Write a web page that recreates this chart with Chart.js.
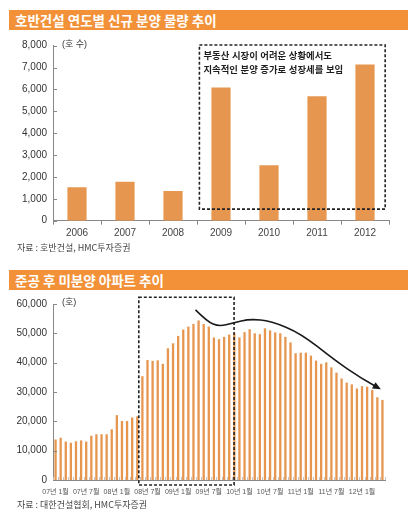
<!DOCTYPE html>
<html>
<head>
<meta charset="utf-8">
<script src="https://cdn.jsdelivr.net/npm/chart.js@4.4.1/dist/chart.umd.min.js"></script>
<style>
  body { margin: 0; background: #fff; width: 413px; height: 517px; position: relative; overflow: hidden;
         font-family: 'Noto Sans CJK KR', sans-serif; }
  .banner { position: absolute; left: 9px; width: 399px; height: 20px; background: #F29138; color: #fff;
            font-weight: bold; font-size: 13.5px; line-height: 20px; padding-left: 6px; box-sizing: border-box; }
  .src { position: absolute; left: 17px; font-size: 9px; color: #444; line-height: 12px; }
  canvas { position: absolute; left: 0; }
</style>
</head>
<body>
<div class="banner" style="top:10px">호반건설 연도별 신규 분양 물량 추이</div>
<canvas id="supplyChart" width="413" height="230" style="top:30px"></canvas>
<div class="src" style="top:242px">자료 : 호반건설, HMC투자증권</div>
<div class="banner" style="top:270px">준공 후 미분양 아파트 추이</div>
<canvas id="unsoldChart" width="413" height="255" style="top:262px"></canvas>
<div class="src" style="top:499px">자료 : 대한건설협회, HMC투자증권</div>

<script>
// 호반건설 연도별 신규 분양 물량 (호)
const years = ['2006', '2007', '2008', '2009', '2010', '2011', '2012']
const supplyUnits = [1530, 1780, 1360, 6090, 2530, 5690, 7140]

// 준공 후 미분양 아파트, 07년 1월 ~ 12년 5월 월별 (호)
const monthTickLabels = ['07년 1월', '07년 7월', '08년 1월', '08년 7월', '09년 1월', '09년 7월',
  '10년 1월', '10년 7월', '11년 1월', '11년 7월', '12년 1월']
const unsoldUnits = [
  13800, 14400, 13100, 12700, 13200, 13500, 13100, 15100, 15600, 15600, 15600, 17300,
  22100, 20100, 20100, 21300, 21700, 35400, 40900, 40600, 40800, 39600, 44900, 46600,
  49100, 51300, 52300, 53200, 54400, 53200, 52300, 48600, 48000, 48800, 49600, 50000,
  48600, 50400, 51400, 50000, 49700, 51700, 51000, 50300, 50000, 48800, 46900, 43200,
  43400, 43400, 42400, 40700, 39600, 40100, 38400, 36600, 34600, 33200, 32600, 31200,
  32000, 31800, 30700, 28200, 27300,
]

const BAR_COLOR = '#E6964F'
const FONT = "'Liberation Sans', 'Noto Sans CJK KR', sans-serif"

// callouts, in data units (category index, value)
const supplyBox = { x0: 2.55, x1: 6.42, y0: 8030, y1: 530 }
const supplyNote = ['부동산 시장이 어려운 상황에서도', '지속적인 분양 증가로 성장세를 보임']
const unsoldBox = { x0: 16.3, x1: 34.95, y0: 62300, y1: -1700 }
const trendCurve = [
  [27.4, 58000], [29.7, 54000], [32.0, 52300], [34.7, 53500], [38.0, 54900],
  [42.2, 54200], [48.0, 50000], [54.6, 40900], [59.8, 34700], [63.7, 30900],
]

const decorations = {
  id: 'decorations',
  afterDraw(chart, args, opts) {
    const ctx = chart.ctx
    const x = chart.scales.x
    const y = chart.scales.y
    const area = chart.chartArea
    ctx.save()

    // y ticks pointing inward
    ctx.strokeStyle = '#888'
    ctx.lineWidth = 1
    y.ticks.forEach((t) => {
      const py = Math.round(y.getPixelForValue(t.value)) + 0.5
      ctx.beginPath()
      ctx.moveTo(area.left, py)
      ctx.lineTo(area.left + 4, py)
      ctx.stroke()
    })

    // x ticks on category boundaries
    ctx.strokeStyle = opts.xTickColor
    const n = chart.data.labels.length
    for (let i = 0; i <= n; i++) {
      const px = Math.round(x.getPixelForValue(i - 0.5)) + 0.5
      ctx.beginPath()
      ctx.moveTo(px, area.bottom)
      ctx.lineTo(px, area.bottom + opts.xTickLen)
      ctx.stroke()
    }

    // unit label
    ctx.fillStyle = '#333'
    ctx.font = '9px ' + FONT
    ctx.textBaseline = 'middle'
    ctx.fillText(opts.unit, area.left + 9, area.top - 1)

    // dashed callout box
    const b = opts.box
    const bx0 = x.getPixelForValue(b.x0)
    const bx1 = x.getPixelForValue(b.x1)
    const by0 = y.getPixelForValue(b.y0)
    const by1 = y.getPixelForValue(b.y1)
    ctx.setLineDash([3, 2])
    ctx.lineWidth = 1.6
    ctx.strokeStyle = '#222'
    ctx.strokeRect(bx0, by0, bx1 - bx0, by1 - by0)
    ctx.setLineDash([])

    if (opts.note) {
      ctx.fillStyle = '#1e1e1e'
      ctx.font = 'bold 9.4px ' + FONT
      opts.note.forEach((line, i) => ctx.fillText(line, bx0 + 4, by0 + 11 + i * 14.5))
    }

    if (opts.curve) {
      const pts = opts.curve.map((p) => [x.getPixelForValue(p[0]), y.getPixelForValue(p[1])])
      const last = pts[pts.length - 1]
      const prev = pts[pts.length - 2]
      const ang = Math.atan2(last[1] - prev[1], last[0] - prev[0])
      const headLen = 9
      const end = [last[0] - Math.cos(ang) * headLen * 0.7, last[1] - Math.sin(ang) * headLen * 0.7]
      ctx.strokeStyle = '#1a1a1a'
      ctx.lineWidth = 1.6
      ctx.beginPath()
      ctx.moveTo(pts[0][0], pts[0][1])
      for (let i = 1; i < pts.length - 2; i++) {
        const mx = (pts[i][0] + pts[i + 1][0]) / 2
        const my = (pts[i][1] + pts[i + 1][1]) / 2
        ctx.quadraticCurveTo(pts[i][0], pts[i][1], mx, my)
      }
      ctx.quadraticCurveTo(prev[0], prev[1], end[0], end[1])
      ctx.stroke()
      // arrow head
      ctx.fillStyle = '#1a1a1a'
      ctx.beginPath()
      ctx.moveTo(last[0], last[1])
      ctx.lineTo(last[0] - headLen * Math.cos(ang - 0.42), last[1] - headLen * Math.sin(ang - 0.42))
      ctx.lineTo(last[0] - headLen * Math.cos(ang + 0.42), last[1] - headLen * Math.sin(ang + 0.42))
      ctx.closePath()
      ctx.fill()
    }
    ctx.restore()
  },
}

function yAxis(max, step) {
  return {
    min: 0,
    max: max,
    afterFit: (s) => { s.width = 53 },
    border: { display: true, color: '#888', width: 1 },
    grid: { display: false, drawTicks: false },
    ticks: {
      stepSize: step,
      padding: 6,
      color: '#333',
      font: { family: FONT, size: 10 },
      callback: (v) => v.toLocaleString('en-US'),
    },
  }
}

function initSupplyChart() {
  const ctx = document.getElementById('supplyChart').getContext('2d')
  new Chart(ctx, {
    type: 'bar',
    data: {
      labels: years,
      datasets: [{ data: supplyUnits, backgroundColor: BAR_COLOR, barPercentage: 0.4, categoryPercentage: 1 }],
    },
    plugins: [decorations],
    options: {
      responsive: false,
      animation: false,
      devicePixelRatio: 1,
      layout: { padding: { top: 15.7, right: 24, bottom: 0, left: 0 } },
      plugins: {
        legend: { display: false },
        tooltip: { enabled: false },
        decorations: { xTickColor: '#888', xTickLen: 4, unit: '(호 수)', box: supplyBox, note: supplyNote },
      },
      scales: {
        x: {
          afterFit: (s) => { s.height = 39.3 },
          border: { display: true, color: '#888', width: 1 },
          grid: { display: false, drawTicks: false },
          ticks: { padding: 7, color: '#444', font: { family: FONT, size: 10 } },
        },
        y: yAxis(8000, 1000),
      },
    },
  })
}

function initUnsoldChart() {
  const labels = unsoldUnits.map((v, i) => (i % 6 === 0 ? monthTickLabels[i / 6] : ''))
  const ctx = document.getElementById('unsoldChart').getContext('2d')
  new Chart(ctx, {
    type: 'bar',
    data: {
      labels: labels,
      datasets: [{ data: unsoldUnits, backgroundColor: BAR_COLOR, barPercentage: 0.45, categoryPercentage: 1 }],
    },
    plugins: [decorations],
    options: {
      responsive: false,
      animation: false,
      devicePixelRatio: 1,
      layout: { padding: { top: 42, right: 28, bottom: 0, left: 0 } },
      plugins: {
        legend: { display: false },
        tooltip: { enabled: false },
        decorations: { xTickColor: '#c4c4c4', xTickLen: -3, unit: '(호)', box: unsoldBox, curve: trendCurve },
      },
      scales: {
        x: {
          afterFit: (s) => { s.height = 37 },
          border: { display: true, color: '#888', width: 1 },
          grid: { display: false, drawTicks: false },
          ticks: {
            autoSkip: false,
            maxRotation: 0,
            minRotation: 0,
            padding: 8,
            color: '#555',
            font: { family: FONT, size: 7 },
          },
        },
        y: yAxis(60000, 10000),
      },
    },
  })
}

initSupplyChart()
initUnsoldChart()
</script>
</body>
</html>
